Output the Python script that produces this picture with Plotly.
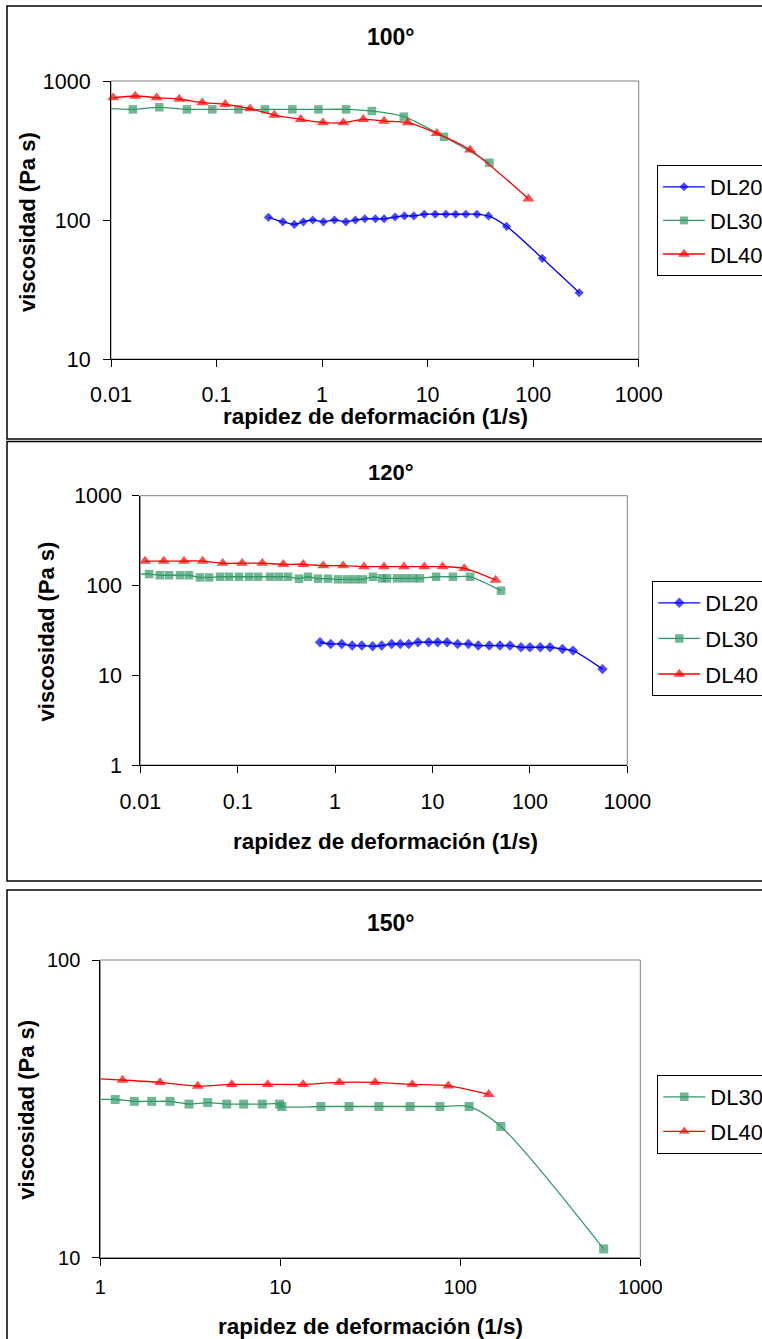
import plotly.graph_objects as go

# ---------------- DATA ----------------
# Panel 100°
p100_dl20_x = [0.31, 0.424, 0.546, 0.665, 0.816, 1.03, 1.31, 1.68, 2.07, 2.54, 3.2, 3.87, 4.92,
               6.03, 7.4, 9.3, 11.8, 14.9, 18.4, 23, 29.3, 37.7, 56, 122, 273]
p100_dl20_y = [104.5, 97, 93, 97, 100, 97, 100, 97, 100, 102, 102, 102, 105,
               107, 107, 110, 110, 110, 110, 110, 110, 107, 90, 53, 30]
p100_dl30_x = [0.009, 0.0161, 0.0287, 0.0525, 0.0912, 0.161, 0.288, 0.523, 0.923, 1.69, 2.96,
               5.95, 14.3, 38.5]
p100_dl30_y = [636, 625, 647, 625, 625, 625, 625, 625, 625, 625, 608, 554, 397, 258]
p100_dl40_x = [0.0105, 0.017, 0.0271, 0.0444, 0.0733, 0.121, 0.208, 0.353, 0.628, 1.02, 1.59,
               2.46, 3.87, 6.49, 12.2, 25.3, 90.2]
p100_dl40_y = [759, 780, 759, 742, 698, 680, 632, 569, 530, 501, 501, 530, 515, 501, 420, 319, 142]

# Panel 120°
p120_dl20_x = [0.70, 0.901, 1.17, 1.5, 1.88, 2.43, 3.01, 3.81, 4.67, 5.7, 7.1, 9.14, 11.3, 14.1,
               18.1, 23.4, 29.5, 38.3, 49.3, 62.5, 81.1, 100, 128, 161, 216, 277, 556]
p120_dl20_y = [23.3, 22.3, 22.3, 21.4, 21.4, 21.0, 21.4, 22.3, 22.3, 22.3, 23.3, 23.3, 23.3, 23.3,
               22.3, 22.3, 21.4, 21.4, 21.4, 21.4, 20.5, 20.5, 20.5, 20.5, 19.6, 18.8, 11.7]
p120_dl30_x = [0.0099, 0.0123, 0.0159, 0.0197, 0.0256, 0.0316, 0.041, 0.0508, 0.0658, 0.0814,
               0.103, 0.131, 0.162, 0.215, 0.265, 0.328, 0.426, 0.527, 0.667, 0.846, 1.07, 1.32,
               1.6, 1.93, 2.45, 3.03, 3.41, 4.32, 5.22, 6.31, 7.43, 10.9, 16.2, 24.3, 50.5]
p120_dl30_y = [134, 134, 130, 130, 130, 130, 123, 123, 125, 125, 125, 125, 125, 125, 125, 125,
               119, 125, 119, 119, 117, 117, 117, 117, 125, 120, 120, 120, 120, 120, 120, 125,
               125, 125, 87.5]
p120_dl40_x = [0.0112, 0.0174, 0.0281, 0.0437, 0.0702, 0.111, 0.179, 0.294, 0.472, 0.757, 1.21,
               1.98, 3.18, 5.1, 8.24, 12.7, 21.2, 44.5]
p120_dl40_y = [187, 187, 187, 187, 177, 177, 177, 172, 172, 166, 166, 162, 162, 162, 162, 162,
               155, 115]

# Panel 150°
p150_dl30_x = [0.955, 1.21, 1.545, 1.93, 2.44, 3.11, 3.95, 5.04, 6.26, 7.94, 9.9, 10.2, 16.8,
               24.1, 35.3, 52.6, 77.1, 112, 168, 626]
p150_dl30_y = [34.0, 34.0, 33.5, 33.5, 33.5, 32.8, 33.2, 32.8, 32.8, 32.8, 32.8, 32.2, 32.2,
               32.2, 32.2, 32.2, 32.2, 32.2, 27.6, 10.7]
p150_dl40_x = [0.955, 1.33, 2.15, 3.48, 5.37, 8.51, 13.4, 21.3, 33.6, 54.1, 85.8, 144]
p150_dl40_y = [39.9, 39.5, 38.8, 37.7, 38.2, 38.2, 38.2, 38.8, 38.8, 38.2, 37.8, 35.4]

panel_titles = ["100°", "120°", "150°"]
x_title = "rapidez de deformación (1/s)"
y_title = "viscosidad (Pa s)"
x_ticks_a = [0.01, 0.1, 1, 10, 100, 1000]
x_ticks_b = [1, 10, 100, 1000]
y_ticks_1 = [10, 100, 1000]
y_ticks_2 = [1, 10, 100, 1000]
y_ticks_3 = [10, 100]

# ---------------- STYLE ----------------
W, H = 762, 1339
FONT = "Liberation Sans, Arial, sans-serif"
BLUE, GREEN, RED = "#0000FF", "#339966", "#FF0000"


def px(x):
    return x / W


def py(y):
    return 1 - y / H


fig = go.Figure()


def add_series(xs, ys, name, color, symbol, msize, xa, ya, legend, hidden_first=False):
    sizes = [msize] * len(xs)
    if hidden_first:
        sizes[0] = 0
    fig.add_trace(go.Scatter(
        x=xs, y=ys, name=name, mode="lines+markers",
        line=dict(color=color, width=1.3, shape="spline", smoothing=0.8),
        marker=dict(color=color, symbol=symbol, size=sizes, line=dict(width=0)),
        xaxis=xa, yaxis=ya, legend=legend, legendgroup=name + legend,
        cliponaxis=False, showlegend=True,
    ))


# panel 1
add_series(p100_dl20_x, p100_dl20_y, "DL20", BLUE, "diamond", 7, "x", "y", "legend")
add_series(p100_dl30_x, p100_dl30_y, "DL30", GREEN, "square", 8.5, "x", "y", "legend", True)
add_series(p100_dl40_x, p100_dl40_y, "DL40", RED, "triangle-up", 10.5, "x", "y", "legend")
# panel 2
add_series(p120_dl20_x, p120_dl20_y, "DL20", BLUE, "diamond", 8, "x2", "y2", "legend2")
add_series(p120_dl30_x, p120_dl30_y, "DL30", GREEN, "square", 8.5, "x2", "y2", "legend2")
add_series(p120_dl40_x, p120_dl40_y, "DL40", RED, "triangle-up", 10.5, "x2", "y2", "legend2")
# panel 3
add_series(p150_dl30_x, p150_dl30_y, "DL30", GREEN, "square", 9, "x3", "y3", "legend3", True)
add_series(p150_dl40_x, p150_dl40_y, "DL40", RED, "triangle-up", 10.5, "x3", "y3", "legend3", True)

# plot-area geometry (window pixels): left, right, top, bottom
areas = [(111, 638.7, 81, 359), (140.3, 627.3, 495.7, 765), (100.3, 640.3, 960, 1257.7)]
xranges = [[-2, 3], [-2, 3], [0, 3]]
yranges = [[1, 3], [0, 3], [1, 2]]
xtv = [x_ticks_a, x_ticks_a, x_ticks_b]
ytv = [y_ticks_1, y_ticks_2, y_ticks_3]
tickfs = [21.5, 21.5, 20]
xstand = [9, 10, 4]
ystand = [8, 6, 8]

for i, (l, r, t, b) in enumerate(areas):
    sfx = "" if i == 0 else str(i + 1)
    common = dict(type="log", showline=True, linecolor="black", linewidth=1,
                  ticks="outside", ticklen=7, tickcolor="black", tickwidth=1,
                  showgrid=False, zeroline=False, automargin=False,
                  tickfont=dict(family=FONT, size=tickfs[i], color="black"))
    fig.layout["xaxis" + sfx] = dict(
        domain=[px(l), px(r)], anchor="y" + sfx, range=xranges[i],
        tickvals=xtv[i], ticktext=[f"{v:g}" for v in xtv[i]],
        ticklabelstandoff=xstand[i], **common)
    fig.layout["yaxis" + sfx] = dict(
        domain=[py(b), py(t)], anchor="x" + sfx, range=yranges[i],
        tickvals=ytv[i], ticktext=[f"{v:g}" for v in ytv[i]],
        ticklabelstandoff=ystand[i], **common)

shapes = []
# gray plot-area borders
for i in range(3):
    sfx = "" if i == 0 else str(i + 1)
    shapes.append(dict(type="rect", xref=("x" + sfx) + " domain", yref=("y" + sfx) + " domain",
                       x0=0, x1=1, y0=0, y1=1, line=dict(color="#808080", width=1),
                       layer="below"))
# outer chart frames
frames = [(6, 439), (441.5, 881), (890, 1360)]
for (t, b) in frames:
    shapes.append(dict(type="rect", xref="paper", yref="paper", x0=px(7), x1=px(800),
                       y0=py(b), y1=py(t), line=dict(color="black", width=1.5)))

annotations = []
title_pos = [(391, 37, 23), (391, 472, 22), (391, 923, 23)]
for txt, (x, y, s) in zip(panel_titles, title_pos):
    annotations.append(dict(text="<b>" + txt + "</b>", x=px(x), y=py(y), xref="paper",
                            yref="paper", showarrow=False, xanchor="center", yanchor="middle",
                            font=dict(family=FONT, size=s, color="black")))
xt_pos = [(375, 416.7), (385, 841.7), (370, 1326.7)]
for (x, y) in xt_pos:
    annotations.append(dict(text="<b>" + x_title + "</b>", x=px(x), y=py(y), xref="paper",
                            yref="paper", showarrow=False, xanchor="center", yanchor="middle",
                            font=dict(family=FONT, size=22.5, color="black")))
yt_pos = [(28, 222), (46.7, 631.7), (25.7, 1110)]
for (x, y) in yt_pos:
    annotations.append(dict(text="<b>" + y_title + "</b>", x=px(x), y=py(y), xref="paper",
                            yref="paper", showarrow=False, xanchor="center", yanchor="middle",
                            textangle=-90, font=dict(family=FONT, size=22, color="black")))

leg_common = dict(xanchor="left", yanchor="top", bordercolor="black", borderwidth=1,
                  bgcolor="white", font=dict(family=FONT, size=22, color="black"),
                  traceorder="grouped", itemwidth=42)
fig.update_layout(
    width=W, height=H, autosize=False,
    margin=dict(l=0, r=0, t=0, b=0, pad=0, autoexpand=False),
    paper_bgcolor="white", plot_bgcolor="white",
    font=dict(family=FONT, color="black"),
    shapes=shapes, annotations=annotations,
    legend=dict(x=px(657), y=py(165), tracegroupgap=2, **leg_common),
    legend2=dict(x=px(652.3), y=py(581), tracegroupgap=4, **leg_common),
    legend3=dict(x=px(657.3), y=py(1075), tracegroupgap=3, **leg_common),
)

# remove the default 8px page margin so the 762x1339 figure fills the window exactly
fig.write_html("out.html", config={"displayModeBar": False},
               post_script="document.body.style.margin='0';")
